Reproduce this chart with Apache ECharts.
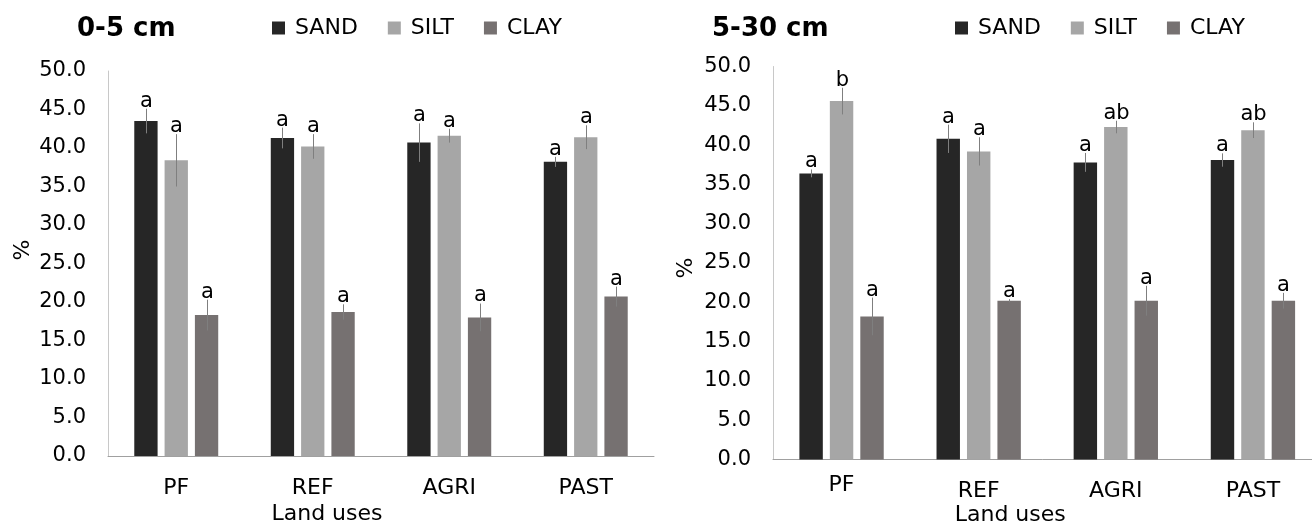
<!DOCTYPE html>
<html>
<head>
<meta charset="utf-8">
<script src="https://cdn.jsdelivr.net/npm/echarts@6/dist/echarts.min.js"></script>
<style>
html,body{margin:0;padding:0;background:#fff;}
#c{width:1312px;height:522px;}
</style>
</head>
<body>
<div id="c"></div>
<script>
// ---- data ----
const categories = ['PF', 'REF', 'AGRI', 'PAST'];
const seriesNames = ['SAND', 'SILT', 'CLAY'];
const yTicks = [0, 50, 5];

// 0-5 cm
const sand05 = [43.5, 41.3, 40.7, 38.2];
const silt05 = [38.4, 40.2, 41.6, 41.4];
const clay05 = [18.3, 18.7, 18.0, 20.7];
const sandErr05 = [1.6, 1.35, 2.5, 0.65];
const siltErr05 = [3.4, 1.6, 0.9, 1.55];
const clayErr05 = [2.0, 1.0, 1.8, 1.3];
const sandLet05 = ['a', 'a', 'a', 'a'];
const siltLet05 = ['a', 'a', 'a', 'a'];
const clayLet05 = ['a', 'a', 'a', 'a'];

// 5-30 cm
const sand530 = [36.4, 40.8, 37.8, 38.1];
const silt530 = [45.6, 39.2, 42.3, 41.9];
const clay530 = [18.2, 20.2, 20.2, 20.2];
const sandErr530 = [0.5, 1.8, 1.2, 0.85];
const siltErr530 = [1.7, 1.8, 0.8, 1.0];
const clayErr530 = [2.4, 0.2, 1.9, 1.0];
const sandLet530 = ['a', 'a', 'a', 'a'];
const siltLet530 = ['b', 'a', 'ab', 'ab'];
const clayLet530 = ['a', 'a', 'a', 'a'];

// ---- styling ----
const FONT = 'DejaVu Sans';
const colors = ['#262626', '#a6a6a6', '#767171'];
const CAT_GAP = 0.385, BAR_GAP = 0.3;

const chart = echarts.init(document.getElementById('c'), null, {renderer: 'canvas'});

function errSeries(gridIdx, sIdx, means, errs, letters) {
  return {
    type: 'custom',
    xAxisIndex: gridIdx, yAxisIndex: gridIdx,
    z: 5,
    silent: true,
    clip: false,
    data: means.map((m, i) => [i, m, errs[i]]),
    renderItem: function (params, api) {
      const i = api.value(0), m = api.value(1), e = api.value(2);
      const band = api.size([1, 0])[0];
      const bw = band * (1 - CAT_GAP) / (3 + 2 * BAR_GAP);
      const off = (sIdx - 1) * bw * (1 + BAR_GAP);
      const top = api.coord([i, m + e]);
      const bot = api.coord([i, m - e]);
      const x = Math.round(top[0] + off) + 0.5;
      return {
        type: 'group',
        children: [
          {type: 'line', shape: {x1: x, y1: top[1], x2: x, y2: bot[1]},
           style: {stroke: '#7f7f7f', lineWidth: 1}},
          {type: 'text', x: x, y: top[1] + 3,
           style: {text: letters[params.dataIndex], fill: '#000', font: '21px ' + FONT,
                   align: 'center', verticalAlign: 'bottom'}}
        ]
      };
    }
  };
}

function barSeries(gridIdx, sIdx, vals) {
  return {
    type: 'bar', name: seriesNames[sIdx],
    xAxisIndex: gridIdx, yAxisIndex: gridIdx,
    data: vals,
    barCategoryGap: (CAT_GAP * 100) + '%',
    barGap: (BAR_GAP * 100) + '%',
    itemStyle: {color: colors[sIdx]},
    emphasis: {disabled: true}
  };
}

function xAxis(gridIdx, labelMargin, nameGap, namePadRight, raiseFirst) {
  return {
    type: 'category', gridIndex: gridIdx, data: categories,
    axisLine: {lineStyle: {color: '#a0a0a0', width: 1}},
    axisTick: {show: false},
    axisLabel: {color: '#000', fontFamily: FONT, fontSize: 22, margin: labelMargin,
                formatter: (v, i) => (raiseFirst && i === 0) ? '{up|' + v + '}' : v,
                rich: {up: {fontFamily: FONT, fontSize: 22, color: '#000', lineHeight: 10}}},
    name: 'Land uses', nameLocation: 'middle', nameGap: nameGap, nameMoveOverlap: false,
    nameTextStyle: {color: '#000', fontFamily: FONT, fontSize: 22, padding: [0, namePadRight, 0, 0]}
  };
}

function yAxis(gridIdx) {
  return {
    type: 'value', gridIndex: gridIdx, min: yTicks[0], max: yTicks[1], interval: yTicks[2],
    axisLine: {show: true, lineStyle: {color: '#c8c8c8', width: 1}},
    axisTick: {show: false},
    splitLine: {show: false},
    axisLabel: {color: '#000', fontFamily: FONT, fontSize: 21, margin: 22,
                formatter: v => v.toFixed(1)}
  };
}

function legend(left) {
  return {
    left: left, top: 17, padding: 0, itemGap: 30, itemWidth: 13, itemHeight: 13, icon: 'rect',
    data: seriesNames, selectedMode: false,
    formatter: name => '{t|' + name + '}',
    textStyle: {fontFamily: FONT, fontSize: 22, color: '#000',
                rich: {t: {fontFamily: FONT, fontSize: 22, color: '#000', padding: [0, 0, 0, 5]}}}
  };
}

const option = {
  animation: false,
  backgroundColor: '#fff',
  title: [
    {text: '0-5 cm', left: 77, top: 16, padding: 0,
     textStyle: {fontFamily: FONT, fontSize: 26, fontWeight: 'bold', color: '#000'}},
    {text: '5-30 cm', left: 712, top: 16, padding: 0,
     textStyle: {fontFamily: FONT, fontSize: 26, fontWeight: 'bold', color: '#000'}}
  ],
  legend: [legend(272), legend(955)],
  grid: [
    {left: 108, right: 658, top: 71, bottom: 66, outerBoundsMode: 'none', containLabel: false},
    {left: 773, right: -9.5, top: 66.5, bottom: 62.5, outerBoundsMode: 'none', containLabel: false}
  ],
  xAxis: [xAxis(0, 21, 47, 108, false), xAxis(1, 20.5, 45, 74, true)],
  yAxis: [yAxis(0), yAxis(1)],
  graphic: [
    {type: 'text', x: 23, y: 250, rotation: Math.PI / 2,
     style: {text: '%', font: '22px ' + FONT, fill: '#000', align: 'center', verticalAlign: 'middle'}},
    {type: 'text', x: 686, y: 268, rotation: Math.PI / 2,
     style: {text: '%', font: '22px ' + FONT, fill: '#000', align: 'center', verticalAlign: 'middle'}}
  ],
  series: [
    barSeries(0, 0, sand05), barSeries(0, 1, silt05), barSeries(0, 2, clay05),
    barSeries(1, 0, sand530), barSeries(1, 1, silt530), barSeries(1, 2, clay530),
    errSeries(0, 0, sand05, sandErr05, sandLet05),
    errSeries(0, 1, silt05, siltErr05, siltLet05),
    errSeries(0, 2, clay05, clayErr05, clayLet05),
    errSeries(1, 0, sand530, sandErr530, sandLet530),
    errSeries(1, 1, silt530, siltErr530, siltLet530),
    errSeries(1, 2, clay530, clayErr530, clayLet530)
  ]
};
chart.setOption(option);
</script>
</body>
</html>
